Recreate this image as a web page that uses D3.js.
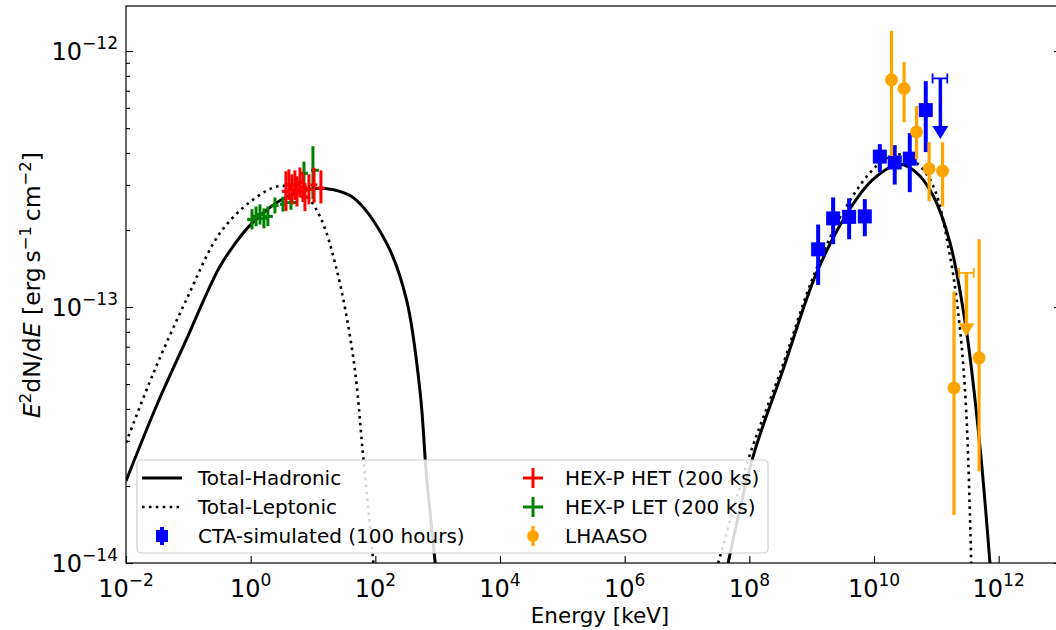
<!DOCTYPE html>
<html><head><meta charset="utf-8">
<script src="https://cdn.jsdelivr.net/npm/d3@7"></script>
<style>
body{margin:0;background:#fff}
svg{display:block}
text{font-family:"DejaVu Sans",sans-serif;fill:#000}
</style>
</head><body>
<svg id="c" width="1056" height="630"></svg>
<script>
// ---- axis tick values ----
const xTickExps = [-2, 0, 2, 4, 6, 8, 10, 12];
const yTickExps = [-14, -13, -12];

// ---- model curves ----
const hadLowE = [0.01, 0.0316, 0.1, 0.178, 0.316, 0.562, 1.0, 3.16, 10.0, 20.0, 44.7, 151, 316, 525, 661, 912];
const hadLowF = [2.09e-14, 4.17e-14, 7.76e-14, 1.07e-13, 1.43e-13, 1.77e-13, 2.10e-13, 2.63e-13, 2.90e-13, 2.88e-13, 2.67e-13, 1.78e-13, 1.07e-13, 4.61e-14, 2.19e-14, 1.0e-14];
const hadHighE = [4.57e7, 1.15e8, 3.47e8, 1.20e9, 4.07e9, 9.77e9, 2.57e10, 4.79e10, 8.91e10, 1.66e11, 3.02e11, 5.01e11, 7.24e11];
const hadHighF = [1.0e-14, 2.61e-14, 5.69e-14, 1.36e-13, 2.41e-13, 3.16e-13, 3.61e-13, 3.35e-13, 2.72e-13, 1.78e-13, 8.17e-14, 2.85e-14, 1.0e-14];
const lepLowE = [0.01, 0.0275, 0.0933, 0.324, 1.10, 2.95, 6.92, 12.9, 24.0, 44.7, 64.6, 93.3];
const lepLowF = [2.95e-14, 5.52e-14, 1.07e-13, 1.95e-13, 2.63e-13, 2.97e-13, 2.80e-13, 2.26e-13, 1.40e-13, 6.24e-14, 2.53e-14, 1.0e-14];
const lepHighE = [3.16e7, 1.0e8, 3.24e8, 1.12e9, 3.63e9, 1.10e10, 2.29e10, 4.79e10, 8.91e10, 1.66e11, 2.40e11, 3.02e11, 3.63e11];
const lepHighF = [1.0e-14, 2.61e-14, 5.69e-14, 1.36e-13, 2.48e-13, 3.56e-13, 3.95e-13, 3.66e-13, 2.97e-13, 1.58e-13, 8.17e-14, 3.89e-14, 1.0e-14];

// ---- HEX-P LET (green) ----
const letE   = [1.05, 1.22, 1.41, 1.63, 1.89, 2.45, 3.3, 4.43, 7.16, 9.98];
const letF   = [2.20e-13, 2.26e-13, 2.30e-13, 2.22e-13, 2.26e-13, 2.49e-13, 2.52e-13, 2.56e-13, 3.33e-13, 3.42e-13];
const letFlo = [2.01e-13, 2.07e-13, 2.10e-13, 2.03e-13, 2.07e-13, 2.32e-13, 2.36e-13, 2.40e-13, 2.99e-13, 2.64e-13];
const letFhi = [2.41e-13, 2.47e-13, 2.52e-13, 2.43e-13, 2.47e-13, 2.68e-13, 2.70e-13, 2.74e-13, 3.70e-13, 4.25e-13];
const letElo = [0.88, 1.02, 1.18, 1.36, 1.58, 2.15, 2.95, 3.55, 6.2, 9.27];
const letEhi = [1.26, 1.46, 1.69, 1.96, 2.27, 2.8, 3.7, 5.74, 8.3, 12.4];

// ---- HEX-P HET (red) ----
const hetE   = [3.68, 4.11, 4.59, 5.13, 5.53, 6.18, 6.90, 7.43, 8.61, 10.4, 13.4];
const hetF   = [2.83e-13, 3.01e-13, 2.88e-13, 2.99e-13, 2.83e-13, 3.07e-13, 2.94e-13, 2.69e-13, 2.88e-13, 3.00e-13, 2.91e-13];
const hetFlo = [2.37e-13, 2.62e-13, 2.52e-13, 2.62e-13, 2.47e-13, 2.68e-13, 2.57e-13, 2.37e-13, 2.52e-13, 2.56e-13, 2.54e-13];
const hetFhi = [3.39e-13, 3.45e-13, 3.30e-13, 3.42e-13, 3.24e-13, 3.51e-13, 3.36e-13, 3.05e-13, 3.30e-13, 3.50e-13, 3.42e-13];
const hetElo = [3.15, 3.51, 3.92, 4.38, 4.73, 5.28, 5.90, 6.35, 7.36, 9.1, 11.5];
const hetEhi = [4.30, 4.81, 5.37, 6.00, 6.47, 7.23, 8.07, 8.69, 10.1, 11.7, 15.6];

// ---- CTA simulated (blue) ----
const ctaE   = [1.27e9, 2.21e9, 3.99e9, 7.12e9, 1.24e10, 2.15e10, 3.75e10, 6.77e10];
const ctaF   = [1.68e-13, 2.22e-13, 2.25e-13, 2.26e-13, 3.87e-13, 3.67e-13, 3.80e-13, 5.88e-13];
const ctaFlo = [1.22e-13, 1.76e-13, 1.84e-13, 1.89e-13, 3.36e-13, 3.01e-13, 2.81e-13, 4.03e-13];
const ctaFhi = [2.10e-13, 2.68e-13, 2.66e-13, 2.64e-13, 4.33e-13, 4.29e-13, 4.78e-13, 7.63e-13];
const ctaUlE = [1.16e11], ctaUlF = [7.82e-13], ctaUlElo = [8.7e10], ctaUlEhi = [1.5e11], ctaUlTip = [4.53e-13];

// ---- LHAASO (orange) ----
const lhE   = [1.91e10, 3.04e10, 4.81e10, 7.66e10, 1.26e11, 1.92e11, 4.85e11];
const lhF   = [7.72e-13, 7.14e-13, 4.83e-13, 3.47e-13, 3.40e-13, 4.83e-14, 6.33e-14];
const lhFlo = [3.89e-13, 5.27e-13, 3.78e-13, 2.59e-13, 2.47e-13, 1.54e-14, 2.28e-14];
const lhFhi = [1.20e-12, 9.06e-13, 6.10e-13, 4.41e-13, 4.41e-13, 1.15e-13, 1.84e-13];
const lhUlE = [3.04e11], lhUlF = [1.36e-13], lhUlElo = [2.32e11], lhUlEhi = [3.98e11], lhUlTip = [7.69e-14];

// ---- legend ----
const legendLabels = ["Total-Hadronic", "Total-Leptonic", "CTA-simulated (100 hours)",
                      "HEX-P HET (200 ks)", "HEX-P LET (200 ks)", "LHAASO"];

const C = {blue:"#0000ff", red:"#ff0000", green:"#008000", orange:"#ffa500"};
const L = 126, R = 1061, T = 6, B = 563;

const svg = d3.select("#c");
const x = d3.scaleLog().domain([1e-2, 1e13]).range([L, R]);
const y = d3.scaleLog().domain([1e-14, 1.5e-12]).range([B, T]);

svg.append("defs").append("clipPath").attr("id","clip")
  .append("rect").attr("x",L).attr("y",T).attr("width",R-L).attr("height",B-T);

const plot = svg.append("g").attr("clip-path","url(#clip)");

const line = d3.line().x(d=>x(d[0])).y(d=>y(d[1])).curve(d3.curveCatmullRom.alpha(0.5));
const zip = (a,b)=>a.map((v,i)=>[v,b[i]]);

plot.append("path").attr("d", line(zip(hadLowE,hadLowF))).attr("fill","none").attr("stroke","#000").attr("stroke-width",3);
plot.append("path").attr("d", line(zip(hadHighE,hadHighF))).attr("fill","none").attr("stroke","#000").attr("stroke-width",3);
plot.append("path").attr("d", line(zip(lepLowE,lepLowF))).attr("fill","none").attr("stroke","#000").attr("stroke-width",2.6).attr("stroke-dasharray","2.6,4.3");
plot.append("path").attr("d", line(zip(lepHighE,lepHighF))).attr("fill","none").attr("stroke","#000").attr("stroke-width",2.6).attr("stroke-dasharray","2.6,4.3");

function errbars(E,F,Flo,Fhi,Elo,Ehi,color,w){
  const g = plot.append("g").attr("stroke",color).attr("stroke-width",w);
  E.forEach((e,i)=>{
    g.append("line").attr("x1",x(e)).attr("x2",x(e)).attr("y1",y(Flo[i])).attr("y2",y(Fhi[i]));
    if(Elo) g.append("line").attr("x1",x(Elo[i])).attr("x2",x(Ehi[i])).attr("y1",y(F[i])).attr("y2",y(F[i]));
  });
}
function upperLimit(E,F,Elo,Ehi,Tip,color){
  const g = plot.append("g");
  E.forEach((e,i)=>{
    const cx=x(e), cy=y(F[i]), ty=y(Tip[i]);
    g.append("line").attr("x1",x(Elo[i])).attr("x2",x(Ehi[i])).attr("y1",cy).attr("y2",cy).attr("stroke",color).attr("stroke-width",1.8);
    [Elo[i],Ehi[i]].forEach(v=>g.append("line").attr("x1",x(v)).attr("x2",x(v)).attr("y1",cy-5).attr("y2",cy+5).attr("stroke",color).attr("stroke-width",1.8));
    g.append("line").attr("x1",cx).attr("x2",cx).attr("y1",cy).attr("y2",ty-8).attr("stroke",color).attr("stroke-width",3.5);
    g.append("path").attr("d",`M${cx-8},${ty-13}L${cx+8},${ty-13}L${cx},${ty}Z`).attr("fill",color);
  });
}

errbars(letE,letF,letFlo,letFhi,letElo,letEhi,C.green,3);
errbars(hetE,hetF,hetFlo,hetFhi,hetElo,hetEhi,C.red,3);

errbars(ctaE,ctaF,ctaFlo,ctaFhi,null,null,C.blue,4);
plot.append("g").selectAll("rect").data(ctaE).join("rect")
  .attr("x",(d)=>x(d)-7).attr("y",(d,i)=>y(ctaF[i])-7).attr("width",14).attr("height",14).attr("fill",C.blue);
upperLimit(ctaUlE,ctaUlF,ctaUlElo,ctaUlEhi,ctaUlTip,C.blue);

errbars(lhE,lhF,lhFlo,lhFhi,null,null,C.orange,3.2);
plot.append("g").selectAll("circle").data(lhE).join("circle")
  .attr("cx",d=>x(d)).attr("cy",(d,i)=>y(lhF[i])).attr("r",6.5).attr("fill",C.orange);
upperLimit(lhUlE,lhUlF,lhUlElo,lhUlEhi,lhUlTip,C.orange);

// ---- axes ----
const xMajor = xTickExps.map(e=>Math.pow(10,e));
const yMajor = yTickExps.map(e=>Math.pow(10,e));
const yMinor = y.ticks().filter(v=>!yMajor.some(m=>Math.abs(m-v)/m<1e-6));

const ax = svg.append("g").attr("font-size",0);
ax.append("g").attr("transform",`translate(0,${B})`)
  .call(d3.axisBottom(x).tickValues(xMajor).tickSize(-7).tickFormat(""));
ax.append("g").attr("transform",`translate(${L},0)`)
  .call(d3.axisLeft(y).tickValues(yMajor).tickSize(-7).tickFormat(""));
ax.append("g").attr("transform",`translate(${L},0)`)
  .call(d3.axisLeft(y).tickValues(yMinor).tickSize(-4).tickFormat(""));
ax.append("g").attr("transform",`translate(${R},0)`)
  .call(d3.axisRight(y).tickValues(yMajor).tickSize(-7).tickFormat(""));
ax.append("g").attr("transform",`translate(${R},0)`)
  .call(d3.axisRight(y).tickValues(yMinor).tickSize(-4).tickFormat(""));
ax.selectAll("path.domain").remove();
ax.selectAll("line").attr("stroke","#000").attr("stroke-width",1.1);
svg.append("rect").attr("x",L).attr("y",T).attr("width",R-L).attr("height",B-T)
  .attr("fill","none").attr("stroke","#000").attr("stroke-width",1.2);

const fmtExp = e => (e<0?"\u2212":"")+Math.abs(e);
xTickExps.forEach(e=>{
  const t = svg.append("text").attr("x",x(Math.pow(10,e))).attr("y",597).attr("text-anchor","middle").attr("font-size",24);
  t.append("tspan").text("10");
  t.append("tspan").attr("dy",-11).attr("font-size",17).text(fmtExp(e));
});
yTickExps.forEach(e=>{
  const t = svg.append("text").attr("x",118).attr("y",y(Math.pow(10,e))+8.5).attr("text-anchor","end").attr("font-size",24);
  t.append("tspan").text("10");
  t.append("tspan").attr("dy",-11).attr("font-size",17).text(fmtExp(e));
});

svg.append("text").attr("x",600).attr("y",623).attr("text-anchor","middle").attr("font-size",21.5).text("Energy [keV]");

const yt = svg.append("text").attr("transform","translate(40,285) rotate(-90)").attr("text-anchor","middle").attr("font-size",23.5);
yt.append("tspan").attr("font-style","italic").text("E");
yt.append("tspan").attr("dy",-9).attr("font-size",16.5).text("2");
yt.append("tspan").attr("dy",9).text("dN/d");
yt.append("tspan").attr("font-style","italic").text("E");
yt.append("tspan").text(" [erg\u2009s");
yt.append("tspan").attr("dy",-9).attr("font-size",16.5).text("\u22121");
yt.append("tspan").attr("dy",9).text("\u2009cm");
yt.append("tspan").attr("dy",-9).attr("font-size",16.5).text("\u22122");
yt.append("tspan").attr("dy",9).text("]");

// ---- legend ----
const lg = svg.append("g");
lg.append("rect").attr("x",137).attr("y",460).attr("width",631).attr("height",93).attr("rx",4)
  .attr("fill","#fff").attr("fill-opacity",0.85).attr("stroke","#d0d0d0").attr("stroke-width",1.2);
const rowY = [478, 507, 536];
const col1 = 198, col2 = 565;
lg.append("line").attr("x1",142).attr("x2",182).attr("y1",rowY[0]).attr("y2",rowY[0]).attr("stroke","#000").attr("stroke-width",3);
lg.append("line").attr("x1",142).attr("x2",182).attr("y1",rowY[1]).attr("y2",rowY[1]).attr("stroke","#000").attr("stroke-width",2.6).attr("stroke-dasharray","2.6,4.3");
lg.append("line").attr("x1",162).attr("x2",162).attr("y1",rowY[2]-9).attr("y2",rowY[2]+9).attr("stroke",C.blue).attr("stroke-width",4);
lg.append("rect").attr("x",156).attr("y",rowY[2]-6).attr("width",12).attr("height",12).attr("fill",C.blue);
[[C.red,rowY[0]],[C.green,rowY[1]]].forEach(([c,yy])=>{
  lg.append("line").attr("x1",533).attr("x2",533).attr("y1",yy-10).attr("y2",yy+10).attr("stroke",c).attr("stroke-width",3);
  lg.append("line").attr("x1",523).attr("x2",543).attr("y1",yy).attr("y2",yy).attr("stroke",c).attr("stroke-width",3);
});
lg.append("line").attr("x1",533).attr("x2",533).attr("y1",rowY[2]-10).attr("y2",rowY[2]+10).attr("stroke",C.orange).attr("stroke-width",3.2);
lg.append("circle").attr("cx",533).attr("cy",rowY[2]).attr("r",6).attr("fill",C.orange);
legendLabels.forEach((s,i)=>{
  lg.append("text").attr("x", i<3?col1:col2).attr("y", rowY[i%3]+7).attr("font-size",20).text(s);
});
</script>
</body></html>
